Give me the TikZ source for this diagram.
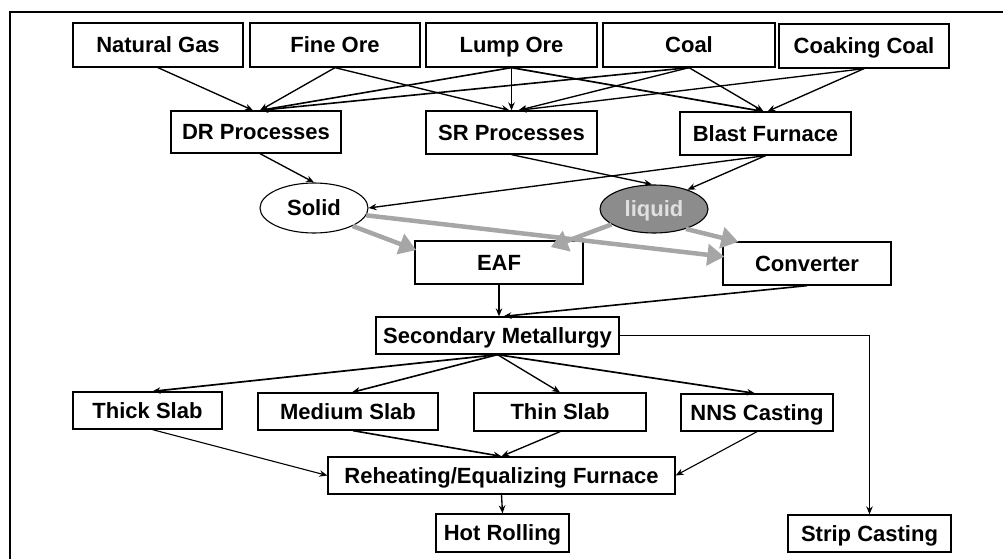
\documentclass[tikz,border=0pt]{standalone}
\usepackage{fontspec}
\setmainfont{Liberation Sans}
\usetikzlibrary{arrows.meta,shapes.geometric,calc}
\definecolor{flowgrey}{HTML}{A6A6A6}
\definecolor{melt}{HTML}{8C8C8C}
\tikzset{
  box/.style={draw, line width=1.3pt, inner sep=0pt, align=center,
    text height=15.8pt, text depth=0pt,
    font=\fontsize{22}{26}\selectfont\bfseries},
  blob/.style={ellipse, draw, line width=1.1pt, inner sep=0pt,
    text height=15.8pt, text depth=0pt,
    font=\fontsize{22}{26}\selectfont\bfseries},
  feed/.style={line width=1.35pt, -{Stealth[length=8pt,width=6.5pt]}},
  route/.style={line width=4.5pt, flowgrey,
    -{Triangle[length=17pt,width=21pt]}, shorten >=-2pt},
}
\begin{document}
\begin{tikzpicture}[x=1pt,y=-1pt]
\useasboundingbox (0,0) rectangle (1003,559);
% frame
\draw[line width=1.8pt] (1003,12) -- (10,12) -- (10,559);

% raw materials
\node[box, minimum width=170pt, minimum height=44pt] (ng)   at (158,45)   {Natural Gas};
\node[box, minimum width=170pt, minimum height=44pt] (fo)   at (335,45)   {Fine Ore};
\node[box, minimum width=171pt, minimum height=44pt] (lo)   at (511.5,45) {Lump Ore};
\node[box, minimum width=172pt, minimum height=44pt] (coal) at (689,45)   {Coal};
\node[box, minimum width=170pt, minimum height=44pt] (ck)   at (864,46)   {Coaking Coal};

% ironmaking
\node[box, minimum width=170pt, minimum height=42pt] (dr) at (256,132)     {DR Processes};
\node[box, minimum width=171pt, minimum height=43pt] (sr) at (511.5,132.5) {SR Processes};
\node[box, minimum width=171pt, minimum height=43pt] (bf) at (765.5,133.5) {Blast Furnace};

% products of ironmaking
\node[blob, minimum width=108pt, minimum height=50pt] (solid) at (314,208) {Solid};
\node[blob, fill=melt, text=white!88!black, minimum width=108pt, minimum height=48pt] (liquid) at (654,209) {liquid};

% steelmaking
\node[box, minimum width=168pt, minimum height=43pt] (eaf)  at (499,262.5) {EAF};
\node[box, minimum width=168pt, minimum height=43pt] (conv) at (807,263.5) {Converter};
\node[box, minimum width=243pt, minimum height=37pt] (sec)  at (497.5,335.5) {Secondary Metallurgy};

% casting
\node[box, minimum width=149pt, minimum height=37pt] (thick)  at (147.5,410.5) {Thick Slab};
\node[box, minimum width=180pt, minimum height=37pt] (medium) at (348,411.5)   {Medium Slab};
\node[box, minimum width=172pt, minimum height=38pt] (thin)   at (560,412)     {Thin Slab};
\node[box, minimum width=152pt, minimum height=37pt] (nns)    at (757,412.5)   {NNS Casting};

% downstream
\node[box, minimum width=347pt, minimum height=37pt] (reheat) at (501.5,475.5) {Reheating/Equalizing Furnace};
\node[box, minimum width=133pt, minimum height=38pt] (hot)    at (502.5,533)   {Hot Rolling};
\node[box, minimum width=163pt, minimum height=37pt] (strip)  at (869.5,533.5) {Strip Casting};

% raw materials into ironmaking
\draw[feed] (ng.south)   -- ([xshift=-3pt]dr.north);
\draw[feed] (fo.south)   -- ([xshift=4pt]dr.north);
\draw[feed, line width=1.6pt] (lo.south)   -- ([xshift=4pt]dr.north);
\draw[feed, line width=1.6pt] (coal.south) -- ([xshift=4pt]dr.north);
\draw[feed] (fo.south)   -- ([xshift=-2pt]sr.north);
\draw[feed] (lo.south)   -- (lo.south |- sr.north);
\draw[feed] (coal.south) -- ([xshift=7pt]sr.north);
\draw[feed] (ck.south)   -- ([xshift=7pt]sr.north);
\draw[feed, line width=1.7pt] (lo.south)   -- ([xshift=-3pt]bf.north);
\draw[feed] (coal.south) -- ([xshift=-2pt]bf.north);
\draw[feed] (ck.south)   -- ([xshift=2pt]bf.north);

% ironmaking to solid / liquid iron
\draw[feed] ([xshift=4pt]dr.south) -- (solid.north);
\draw[feed] (sr.south) -- ([xshift=-2pt]liquid.north);
\draw[feed] (bf.south) -- (solid.east);
\draw[feed] (bf.south) -- (liquid.30);

% charge routes into steelmaking
\draw[route] (solid.-25)  -- ([yshift=-9pt]eaf.north west);
\draw[route] (solid.-8)   -- ([yshift=7pt]conv.west);
\draw[route] (liquid.200) -- ([xshift=-31pt,yshift=-6pt]eaf.north east);
\draw[route] (liquid.-32) -- ([xshift=14pt]conv.north west);

% steelmaking to secondary metallurgy
\draw[feed] (eaf.south) -- (eaf.south |- sec.north);
\draw[feed, line width=1.6pt] (conv.south) -- ([xshift=6pt]sec.north);
\draw[feed, line width=1.9pt] (sec.east) -| (strip.north);

% casting routes
\draw[feed, line width=1.7pt] (sec.south) -- ([xshift=5pt]thick.north);
\draw[feed, line width=1.6pt] (sec.south) -- ([xshift=4pt]medium.north);
\draw[feed] (sec.south) -- (thin.north);
\draw[feed, line width=1.7pt] (sec.south) -- ([xshift=-2pt]nns.north);

% into the reheating furnace and rolling
\draw[feed, line width=1.1pt] ([xshift=5pt]thick.south) -- (reheat.west);
\draw[feed, line width=1.6pt] ([xshift=5pt]medium.south) -- (reheat.north);
\draw[feed] (thin.south) -- (reheat.north);
\draw[feed, line width=1.1pt] (nns.south) -- (reheat.east);
\draw[feed] (reheat.south) -- (hot.north);
\end{tikzpicture}
\end{document}
